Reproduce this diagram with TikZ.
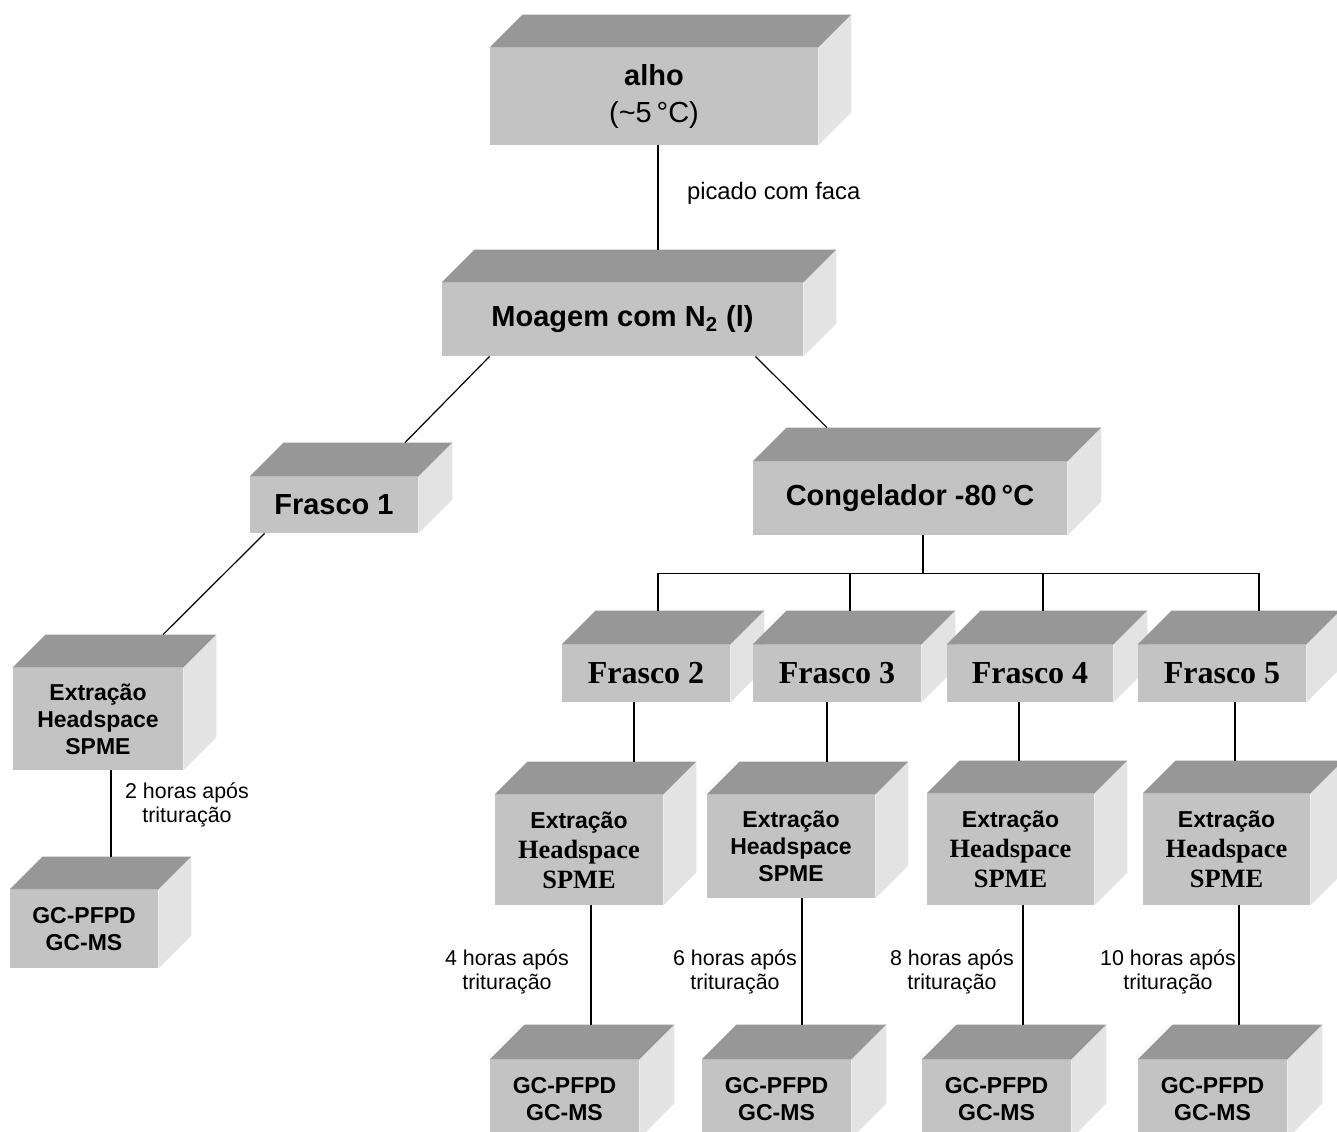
\documentclass[tikz,border=0pt]{standalone}
\usepackage{fontspec}
\setmainfont{Liberation Sans}
\newfontfamily\tnr{Liberation Serif}
\usetikzlibrary{calc}

\definecolor{boxfront}{HTML}{C3C3C3}
\definecolor{boxtop}{HTML}{979797}
\definecolor{boxside}{HTML}{E3E3E3}

% text sizes
\newcommand{\bigtxt}{\fontsize{14.5}{18.5}\selectfont}
\newcommand{\frtxt}{\fontsize{16}{19}\selectfont}
\newcommand{\midtxt}{\fontsize{11.5}{13.5}\selectfont}
\newcommand{\mixtxt}{\fontsize{11.5}{15}\selectfont}
\newcommand{\sertxt}{\tnr\fontsize{13.2}{15}\selectfont}

% top and side face of a block, depth #2
\newcommand{\cubefaces}[2]{%
  \fill[boxtop] (#1.north west) -- ++(#2,-#2) -- ([shift={(#2,-#2)}]#1.north east) -- (#1.north east) -- cycle;
  \fill[boxside] (#1.north east) -- ([shift={(#2,-#2)}]#1.north east) -- ([shift={(#2,-#2)}]#1.south east) -- (#1.south east) -- cycle;
  \coordinate (#1-back) at ([shift={(#2,-#2)}]#1.north);
}

\tikzset{
  blk/.style={fill=boxfront, inner sep=0pt, align=center, font=\bfseries\midtxt},
  blkbig/.style={blk, font=\bfseries\bigtxt},
  blkfr/.style={blk, font=\bfseries\tnr\frtxt},
  blkmix/.style={blk, font=\bfseries\mixtxt},
  lbl/.style={align=center, font=\fontsize{10.7}{12.3}\selectfont},
  link/.style={black, line width=0.6pt},
}

\begin{document}
\begin{tikzpicture}[x=0.5pt,y=-0.5pt]
\useasboundingbox (0,0) rectangle (1337,1131);

% top part
\node[blkbig, minimum width=164pt, minimum height=48.5pt] (alho) at (654,96.5) {alho\\\mdseries(\textasciitilde5\,°C)};
\cubefaces{alho}{33}
\node[blkbig, minimum width=180.5pt, minimum height=36.5pt] (moagem) at (622.5,319.5) {Moagem com N\textsubscript{2} (l)};
\cubefaces{moagem}{33}
\node[blkbig, minimum width=84pt, minimum height=28pt] (frasco1) at (334,505) {Frasco 1};
\cubefaces{frasco1}{34}
\node[blkbig, minimum width=157pt, minimum height=36.5pt] (congel) at (910,498.5) {Congelador -80\,°C};
\cubefaces{congel}{34}

% frascos
\node[blkfr, minimum width=84pt, minimum height=28.5pt] (frasco2) at (646,673.5) {Frasco 2};
\cubefaces{frasco2}{34}
\node[blkfr, minimum width=84pt, minimum height=28.5pt] (frasco3) at (837,673.5) {Frasco 3};
\cubefaces{frasco3}{34}
\node[blkfr, minimum width=83pt, minimum height=28.5pt] (frasco4) at (1030,673.5) {Frasco 4};
\cubefaces{frasco4}{34}
\node[blkfr, minimum width=84pt, minimum height=28.5pt] (frasco5) at (1222,673.5) {Frasco 5};
\cubefaces{frasco5}{34}

% extraction
\node[blk, minimum width=85pt, minimum height=51pt] (ext1) at (98,719) {Extração\\Headspace\\SPME};
\cubefaces{ext1}{33}
\node[blkmix, minimum width=84pt, minimum height=55pt] (ext2) at (579,850) {Extração\\{\sertxt Headspace}\\{\sertxt SPME}};
\cubefaces{ext2}{33}
\node[blk, minimum width=84pt, minimum height=51.5pt] (ext3) at (791,846.5) {Extração\\Headspace\\SPME};
\cubefaces{ext3}{33}
\node[blkmix, minimum width=83.5pt, minimum height=55.5pt] (ext4) at (1010.5,849.5) {Extração\\{\sertxt Headspace}\\{\sertxt SPME}};
\cubefaces{ext4}{33}
\node[blkmix, minimum width=83.5pt, minimum height=55.5pt] (ext5) at (1226.5,849.5) {Extração\\{\sertxt Headspace}\\{\sertxt SPME}};
\cubefaces{ext5}{33}

% detectors
\node[blk, minimum width=74pt, minimum height=39pt] (gc1) at (84,929) {GC-PFPD\\GC-MS};
\cubefaces{gc1}{33}
\node[blk, minimum width=74.5pt, minimum height=39pt] (gc2) at (564.5,1099) {GC-PFPD\\GC-MS};
\cubefaces{gc2}{35}
\node[blk, minimum width=74.5pt, minimum height=39pt] (gc3) at (776.5,1099) {GC-PFPD\\GC-MS};
\cubefaces{gc3}{35}
\node[blk, minimum width=74.5pt, minimum height=39pt] (gc4) at (996.5,1099) {GC-PFPD\\GC-MS};
\cubefaces{gc4}{35}
\node[blk, minimum width=74.5pt, minimum height=39pt] (gc5) at (1212.5,1099) {GC-PFPD\\GC-MS};
\cubefaces{gc5}{35}

% labels
\node[lbl, anchor=west, font=\fontsize{11.9}{14}\selectfont] (picado) at (680,193) {picado com faca};
\node[lbl] (t2) at (187,805) {2 horas após\\trituração};
\node[lbl] (t4) at (507,972) {4 horas após\\trituração};
\node[lbl] (t6) at (735,972) {6 horas após\\trituração};
\node[lbl] (t8) at (952,972) {8 horas após\\trituração};
\node[lbl] (t10) at (1168,972) {10 horas após\\trituração};

% links
\draw[link] ([xshift=2pt]alho.south) -- ([xshift=2pt]alho.south |- moagem-back);
\draw[link] ([xshift=24pt]moagem.south west) -- ([xshift=18.5pt]frasco1-back);
\draw[link] ([xshift=-24pt]moagem.south east) -- ([xshift=-58.5pt]congel-back);
\draw[link] ([xshift=7.5pt]frasco1.south west) -- ([xshift=16pt]ext1-back);
\draw[link] ([xshift=6.5pt]ext1.south) -- ([xshift=6.5pt]ext1.south |- gc1-back);
%bus
\coordinate (bus) at ([xshift=6.5pt,yshift=-19pt]congel.south);
\draw[link] ([xshift=6.5pt]congel.south) -- (bus);
\draw[link] ([xshift=-11pt]frasco2-back) |- ([xshift=1.5pt]frasco5-back |- bus) -- ([xshift=1.5pt]frasco5-back);
\draw[link] ([xshift=-10.5pt]frasco3-back) -- ([xshift=-10.5pt]frasco3-back |- bus);
\draw[link] ([xshift=-10.5pt]frasco4-back) -- ([xshift=-10.5pt]frasco4-back |- bus);
%
\draw[link] ([xshift=-6pt]frasco2.south) -- ([xshift=-6pt]frasco2.south |- ext2-back);
\draw[link] ([xshift=-5pt]frasco3.south) -- ([xshift=-5pt]frasco3.south |- ext3-back);
\draw[link] ([xshift=-5.5pt]frasco4.south) -- ([xshift=-5.5pt]frasco4.south |- ext4-back);
\draw[link] ([xshift=6.5pt]frasco5.south) -- ([xshift=6.5pt]frasco5.south |- ext5-back);
%
\draw[link] ([xshift=6pt]ext2.south) -- ([xshift=6pt]ext2.south |- gc2-back);
\draw[link] ([xshift=5.5pt]ext3.south) -- ([xshift=5.5pt]ext3.south |- gc3-back);
\draw[link] ([xshift=6.25pt]ext4.south) -- ([xshift=6.25pt]ext4.south |- gc4-back);
\draw[link] ([xshift=6.25pt]ext5.south) -- ([xshift=6.25pt]ext5.south |- gc5-back);
\end{tikzpicture}
\end{document}
